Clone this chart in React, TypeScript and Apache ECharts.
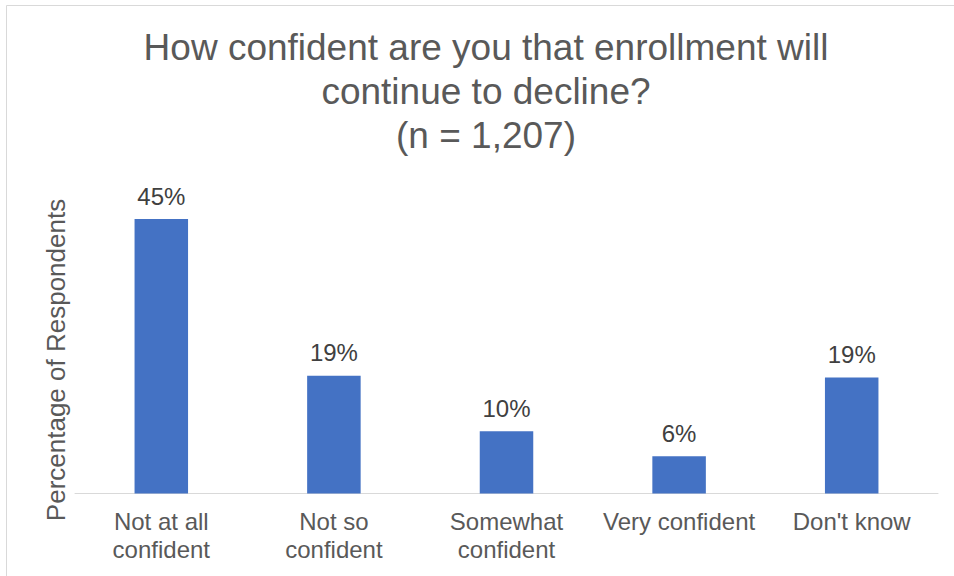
import React, { useEffect, useRef } from "react";
import * as echarts from "echarts";

const categories = ["Not at all\nconfident", "Not so\nconfident", "Somewhat\nconfident", "Very confident", "Don't know"];
const values = [45, 19.3, 10.2, 6.1, 19.0];
const titleLines = ["How confident are you that enrollment will", "continue to decline?", "(n = 1,207)"];
const yAxisName = "Percentage of Respondents";

const FONT = '"Liberation Sans", Arial, sans-serif';

export default function App() {
  const ref = useRef<HTMLDivElement>(null);
  useEffect(() => {
    if (!ref.current) return;
    const chart = echarts.init(ref.current, null, { renderer: "svg" });
    chart.setOption({
      animation: false,
      backgroundColor: "#ffffff",
      textStyle: { fontFamily: FONT },
      grid: { left: 75, right: 16, top: 188.5, bottom: 82.5, containLabel: false },
      xAxis: {
        type: "category",
        data: categories,
        axisLine: { show: true, lineStyle: { color: "#d9d9d9", width: 1 } },
        axisTick: { show: false },
        axisLabel: {
          color: "#595959",
          fontSize: 24,
          lineHeight: 28,
          margin: 14,
          fontFamily: FONT,
          interval: 0,
        },
      },
      yAxis: {
        type: "value",
        min: 0,
        max: 50,
        show: false,
        splitLine: { show: false },
      },
      series: [
        {
          type: "bar",
          data: values,
          barWidth: "31%",
          itemStyle: { color: "#4472c4" },
          label: {
            show: true,
            position: "top",
            distance: 11,
            color: "#404040",
            fontSize: 24,
            fontFamily: FONT,
            formatter: (p: any) => Math.round(p.value) + "%",
          },
        },
      ],
      graphic: [
        {
          type: "rect",
          shape: { x: 6.5, y: 5.5, width: 1200, height: 1200 },
          style: { fill: "none", stroke: "#d9d9d9", lineWidth: 1 },
          silent: true,
        },
        {
          type: "text",
          x: 486,
          y: 25,
          style: {
            text: titleLines.join("\n"),
            fill: "#595959",
            font: `37px ${FONT}`,
            lineHeight: 44,
            align: "center",
            verticalAlign: "top",
          },
        },
        {
          type: "text",
          x: 56,
          y: 360,
          rotation: Math.PI / 2,
          style: {
            text: yAxisName,
            fill: "#595959",
            font: `26px ${FONT}`,
            align: "center",
            verticalAlign: "middle",
          },
        },
      ],
    });
    return () => chart.dispose();
  }, []);
  return (
    <div
      ref={ref}
      style={{ position: "fixed", left: 0, top: 0, width: 954, height: 576 }}
    />
  );
}
